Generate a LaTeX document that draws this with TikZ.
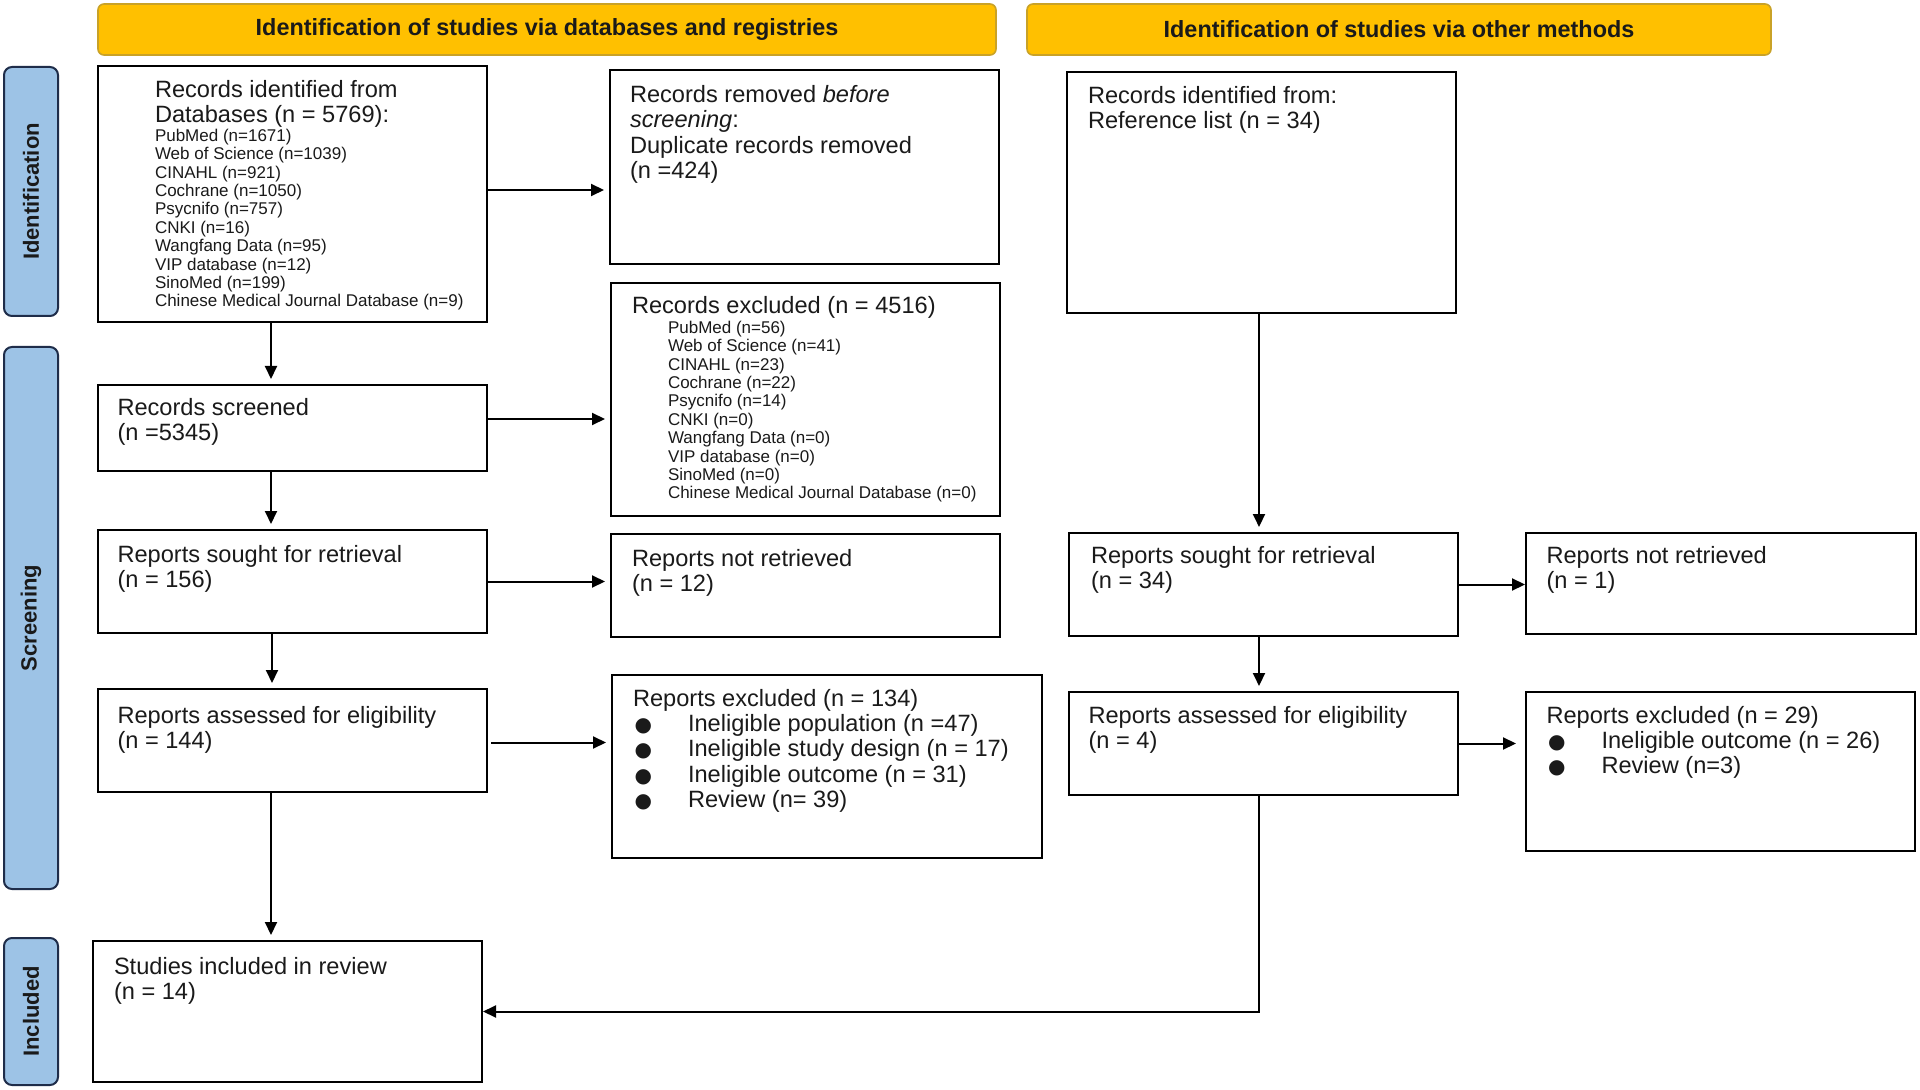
\documentclass[tikz,border=0pt]{standalone}
\usepackage{fontspec}
\setmainfont{Liberation Sans}
\newfontfamily\dejavu{DejaVu Sans}
\usetikzlibrary{arrows.meta,calc}
\definecolor{hdrfill}{HTML}{FFC000}
\definecolor{hdrline}{HTML}{C9A227}
\definecolor{barfill}{HTML}{9DC3E6}
\definecolor{barline}{HTML}{1F2D4A}
\definecolor{ink}{HTML}{1A1A1A}
\newcommand{\prismabullet}{\makebox[27.5pt][l]{\hspace{0.8pt}{\dejavu\fontsize{10}{10}\selectfont ●}}}
\tikzset{
  box/.style={draw=black, line width=1.35pt, anchor=north west, inner sep=0pt, outer sep=0pt},
  txt/.style={anchor=north west, inner sep=0pt, outer sep=0pt, align=left, text=ink, font=\fontsize{11.8}{12.7}\selectfont},
  smalltxt/.style={txt, font=\fontsize{8.5}{9.2}\selectfont},
  hdr/.style={rounded corners=3pt, fill=hdrfill, draw=hdrline, line width=0.8pt, inner sep=0pt, text=ink, font=\bfseries\fontsize{11.7}{14}\selectfont},
  bar/.style={rotate=90, rounded corners=4pt, fill=barfill, draw=barline, line width=1pt, inner sep=0pt, text=ink, font=\bfseries\fontsize{11}{13}\selectfont},
  arr/.style={-{Triangle[length=6.5pt,width=6pt]}, line width=1pt, draw=black, shorten >=3pt}
}
\begin{document}
\begin{tikzpicture}[x=0.5pt,y=-0.5pt]
\useasboundingbox (0,0) rectangle (1920,1090);
\fill[white] (0,0) rectangle (1920,1090);

% headers
\node[hdr, minimum width=449pt, minimum height=25.5pt] (h1) at (547,29.5) {Identification of studies via databases and registries};
\node[hdr, minimum width=372pt, minimum height=25.5pt] (h2) at (1399,29.5) {Identification of studies via other methods};

% side bars
\node[bar, minimum width=124.5pt, minimum height=27pt] (s1) at (31,191.5) {Identification};
\node[bar, minimum width=271pt, minimum height=27pt] (s2) at (31,618) {Screening};
\node[bar, minimum width=73.5pt, minimum height=27pt] (s3) at (31,1011.5) {Included};

% boxes
\node[box, minimum width=194.5pt, minimum height=128pt] (A) at (98,66) {};
\node[box, minimum width=194.5pt, minimum height=97pt] (B) at (610,70) {};
\node[box, minimum width=194.5pt, minimum height=120.5pt] (C) at (1067,72) {};
\node[box, minimum width=194.5pt, minimum height=43pt] (D) at (98,385) {};
\node[box, minimum width=194.5pt, minimum height=116.5pt] (E) at (611,283) {};
\node[box, minimum width=194.5pt, minimum height=51.5pt] (F) at (98,530) {};
\node[box, minimum width=194.5pt, minimum height=51.5pt] (G) at (611,534) {};
\node[box, minimum width=194.5pt, minimum height=51.5pt] (H) at (1069,533) {};
\node[box, minimum width=195pt, minimum height=50.5pt] (I) at (1526,533) {};
\node[box, minimum width=194.5pt, minimum height=51.5pt] (J) at (98,689) {};
\node[box, minimum width=215pt, minimum height=91.5pt] (K) at (612,675) {};
\node[box, minimum width=194.5pt, minimum height=51.5pt] (L) at (1069,692) {};
\node[box, minimum width=194.5pt, minimum height=79.5pt] (M) at (1526,692) {};
\node[box, minimum width=194.5pt, minimum height=70.5pt] (N) at (93,941) {};

% texts
\node[txt, font=\fontsize{11.8}{12.6}\selectfont] (tA) at (155,80) {Records identified from\\Databases (n = 5769):};
\node[smalltxt] (tA2) at (155,129) {PubMed (n=1671)\\Web of Science (n=1039)\\CINAHL (n=921)\\Cochrane (n=1050)\\Psycnifo (n=757)\\CNKI (n=16)\\Wangfang Data (n=95)\\VIP database (n=12)\\SinoMed (n=199)\\Chinese Medical Journal Database (n=9)};
\node[txt, font=\fontsize{11.8}{12.8}\selectfont] (tB) at (630,85) {Records removed \textit{before}\\\textit{screening}:\\Duplicate records removed\\(n =424)};
\node[txt] (tC) at (1088,86) {Records identified from:\\Reference list (n = 34)};
\node[txt] (tD) at (117.5,398) {Records screened\\(n =5345)};
\node[txt] (tE) at (632,296) {Records excluded (n = 4516)};
\node[smalltxt] (tE2) at (668,321) {PubMed (n=56)\\Web of Science (n=41)\\CINAHL (n=23)\\Cochrane (n=22)\\Psycnifo (n=14)\\CNKI (n=0)\\Wangfang Data (n=0)\\VIP database (n=0)\\SinoMed (n=0)\\Chinese Medical Journal Database (n=0)};
\node[txt] (tF) at (117.5,545) {Reports sought for retrieval\\(n = 156)};
\node[txt] (tG) at (632,549) {Reports not retrieved\\(n = 12)};
\node[txt] (tH) at (1091,546) {Reports sought for retrieval\\(n = 34)};
\node[txt] (tI) at (1546.5,546) {Reports not retrieved\\(n = 1)};
\node[txt] (tJ) at (117.5,706) {Reports assessed for eligibility\\(n = 144)};
\node[txt] (tK) at (633,689) {Reports excluded (n = 134)\\\prismabullet Ineligible population (n =47)\\\prismabullet Ineligible study design (n = 17)\\\prismabullet Ineligible outcome (n = 31)\\\prismabullet Review (n= 39)};
\node[txt] (tL) at (1088.5,706) {Reports assessed for eligibility\\(n = 4)};
\node[txt] (tM) at (1546.5,706) {Reports excluded (n = 29)\\\prismabullet Ineligible outcome (n = 26)\\\prismabullet Review (n=3)};
\node[txt] (tN) at (114,957) {Studies included in review\\(n = 14)};

% connectors
\coordinate (a0) at ($(A.east)+(0,-4)$);
\draw[arr] (a0) -- (a0 -| B.west);
\coordinate (a1) at ($(A.south)+(-21.5,0)$);
\draw[arr] (a1) -- (a1 |- D.north);
\coordinate (d1) at ($(D.east)+(0,-9)$);
\draw[arr] (d1) -- (d1 -| E.west);
\coordinate (d2) at ($(D.south)+(-21.5,0)$);
\draw[arr] (d2) -- (d2 |- F.north);
\draw[arr] (F.east) -- (F.east -| G.west);
\coordinate (f2) at ($(F.south)+(-20.5,0)$);
\draw[arr] (f2) -- (f2 |- J.north);
\coordinate (j1) at ($(J.east)+(4,2)$);
\draw[arr] (j1) -- (j1 -| K.west);
\coordinate (j2) at ($(J.south)+(-21.5,0)$);
\draw[arr] (j2) -- (j2 |- N.north);
\coordinate (c1) at ($(C.south)+(-2.5,0)$);
\draw[arr] (c1) -- (c1 |- H.north);
\draw[arr, shorten >=0.5pt] (H.east) -- (H.east -| I.west);
\coordinate (h2) at ($(H.south)+(-4.5,0)$);
\draw[arr] (h2) -- (h2 |- L.north);
\draw[arr, shorten >=5pt] (L.east) -- (L.east -| M.west);
\coordinate (l2) at ($(L.south)+(-4.5,0)$);
\draw[arr, shorten >=0.5pt] (l2) |- (N.east);
\end{tikzpicture}
\end{document}
